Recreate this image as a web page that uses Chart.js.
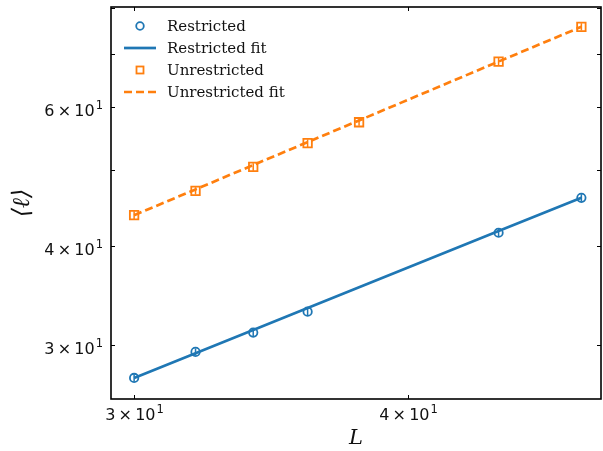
<!DOCTYPE html>
<html>
<head>
<meta charset="utf-8">
<script src="https://cdn.jsdelivr.net/npm/chart.js@4/dist/chart.umd.min.js"></script>
<style>
  html, body { margin: 0; padding: 0; background: #fff; }
  #wrap { width: 603px; height: 451px; }
</style>
</head>
<body>
<div id="wrap"><canvas id="grafico" width="603" height="451"></canvas></div>
<script>
// system sizes L
const lRestrito = [30, 32, 34, 36, 44, 48];
const lIrrestrito = [30, 32, 34, 36, 38, 44, 48];

// mean loop length <l>
const restrito = [27.25, 29.4, 31.1, 33.05, 41.6, 46.05];
const restritoErro = [0.3, 0.3, 0.35, 0.35, 0.45, 0.5];
const restritoFit = [27.25, 29.28, 31.34, 33.42, 41.8, 46.05];

const irrestrito = [43.8, 47.0, 50.4, 54.0, 57.4, 68.5, 75.8];
const irrestritoErro = [0.5, 0.5, 0.55, 0.6, 0.6, 0.75, 0.8];
const irrestritoFit = [43.78, 47.2, 50.67, 54.17, 57.7, 68.5, 75.8];

// ticks (mantissa, expoente)
const ticksX = [30, 40];
const ticksY = [30, 40, 50, 60, 70, 80];
const rotulosX = { 30: ["3", "1"], 40: ["4", "1"] };
const rotulosY = { 30: ["3", "1"], 40: ["4", "1"], 60: ["6", "1"] };

const azul = "#1f77b4";
const laranja = "#ff7f0e";

function pontos(xs, ys) {
    return xs.map((x, i) => ({ x: x, y: ys[i] }));
}

Chart.defaults.font.family = "'DejaVu Serif', serif";
Chart.defaults.color = "#111";

// desenha "m×10^e"
function rotulo(ctx, m, e, x, y, alinhar) {
    const base = "16px 'DejaVu Sans'";
    const sup = "11.5px 'DejaVu Sans'";
    const txt = m + "\u2009×\u200910";
    ctx.font = base;
    const w1 = ctx.measureText(txt).width;
    ctx.font = sup;
    const w2 = ctx.measureText(e).width + 1;
    const w = w1 + w2;
    let x0 = x;
    if (alinhar === "center") x0 = x - w / 2;
    if (alinhar === "right") x0 = x - w;
    ctx.textAlign = "left";
    ctx.textBaseline = "alphabetic";
    ctx.font = base;
    ctx.fillText(txt, x0, y);
    ctx.font = sup;
    ctx.fillText(e, x0 + w1 + 1, y - 7);
}

const errosPlugin = {
    id: "erros",
    afterDatasetsDraw(chart) {
        const ctx = chart.ctx;
        const sx = chart.scales.x;
        const sy = chart.scales.y;
        const grupos = [
            [lRestrito, restrito, restritoErro, azul],
            [lIrrestrito, irrestrito, irrestritoErro, laranja]
        ];
        ctx.save();
        ctx.lineWidth = 1.5;
        grupos.forEach(g => {
            ctx.strokeStyle = g[3];
            g[0].forEach((x, i) => {
                const px = sx.getPixelForValue(x);
                ctx.beginPath();
                ctx.moveTo(px, sy.getPixelForValue(g[1][i] - g[2][i]));
                ctx.lineTo(px, sy.getPixelForValue(g[1][i] + g[2][i]));
                ctx.stroke();
            });
        });
        ctx.restore();
    }
};

const molduraPlugin = {
    id: "moldura",
    afterDraw(chart) {
        const ctx = chart.ctx;
        const a = chart.chartArea;
        const sx = chart.scales.x;
        const sy = chart.scales.y;
        ctx.save();
        ctx.strokeStyle = "#000";
        ctx.fillStyle = "#111";
        ctx.lineWidth = 1;
        const t = 4;
        ticksX.forEach(v => {
            const px = Math.round(sx.getPixelForValue(v)) + 0.5;
            ctx.beginPath();
            ctx.moveTo(px, a.bottom); ctx.lineTo(px, a.bottom - t);
            ctx.moveTo(px, a.top); ctx.lineTo(px, a.top + t);
            ctx.stroke();
            if (rotulosX[v]) rotulo(ctx, rotulosX[v][0], rotulosX[v][1], px, a.bottom + 21, "center");
        });
        ticksY.forEach(v => {
            const py = Math.round(sy.getPixelForValue(v)) + 0.5;
            ctx.beginPath();
            ctx.moveTo(a.left, py); ctx.lineTo(a.left + t, py);
            ctx.moveTo(a.right, py); ctx.lineTo(a.right - t, py);
            ctx.stroke();
            if (rotulosY[v]) rotulo(ctx, rotulosY[v][0], rotulosY[v][1], a.left - 8, py + 8, "right");
        });
        ctx.lineWidth = 1.6;
        ctx.strokeRect(a.left, a.top, a.right - a.left, a.bottom - a.top);

        // legenda
        const itens = [
            ["Restricted", "circle"],
            ["Restricted fit", "solid"],
            ["Unrestricted", "rect"],
            ["Unrestricted fit", "dash"]
        ];
        const ys = [26, 48, 70, 92];
        ctx.font = "15px 'DejaVu Serif'";
        ctx.textBaseline = "middle";
        ctx.textAlign = "left";
        itens.forEach((it, i) => {
            const y = ys[i];
            const cor = i < 2 ? azul : laranja;
            ctx.strokeStyle = cor;
            if (it[1] === "circle") {
                ctx.lineWidth = 1.8;
                ctx.beginPath();
                ctx.arc(140, y, 3.8, 0, Math.PI * 2);
                ctx.stroke();
            } else if (it[1] === "rect") {
                ctx.lineWidth = 1.8;
                ctx.strokeRect(136.5, y - 3.5, 7, 7);
            } else {
                ctx.lineWidth = 2.7;
                ctx.setLineDash(it[1] === "dash" ? [8, 4] : []);
                ctx.beginPath();
                ctx.moveTo(124, y); ctx.lineTo(156, y);
                ctx.stroke();
                ctx.setLineDash([]);
            }
            ctx.fillStyle = "#111";
            ctx.fillText(it[0], 167, y + 1);
        });
        ctx.restore();
    }
};

const ctx = document.getElementById("grafico").getContext("2d");

new Chart(ctx, {
    type: "scatter",
    data: {
        datasets: [
            {
                label: "Restricted fit",
                type: "line",
                data: pontos(lRestrito, restritoFit),
                borderColor: azul,
                borderWidth: 2.7,
                pointRadius: 0,
                fill: false
            },
            {
                label: "Unrestricted fit",
                type: "line",
                data: pontos(lIrrestrito, irrestritoFit),
                borderColor: laranja,
                borderWidth: 2.7,
                borderDash: [8, 4],
                pointRadius: 0,
                fill: false
            },
            {
                label: "Restricted",
                data: pontos(lRestrito, restrito),
                pointStyle: "circle",
                pointRadius: 4.2,
                pointBorderWidth: 1.8,
                borderColor: azul,
                backgroundColor: "rgba(255,255,255,0.7)"
            },
            {
                label: "Unrestricted",
                data: pontos(lIrrestrito, irrestrito),
                pointStyle: "rect",
                pointRadius: 6,
                pointBorderWidth: 1.8,
                borderColor: laranja,
                backgroundColor: "rgba(255,255,255,0.7)"
            }
        ]
    },
    options: {
        responsive: false,
        animation: false,
        layout: { autoPadding: false, padding: { left: 0, top: 7, right: 2, bottom: 0 } },
        plugins: {
            legend: { display: false },
            tooltip: { enabled: false }
        },
        scales: {
            x: {
                type: "logarithmic",
                min: 29.28,
                max: 49,
                grid: { display: false, drawTicks: false, tickLength: 0 },
                border: { display: false },
                afterBuildTicks: s => { s.ticks = ticksX.map(v => ({ value: v })); },
                afterFit: s => { s.height = 52; s.paddingLeft = 0; s.paddingRight = 0; },
                ticks: { display: false },
                title: {
                    display: true,
                    text: "L",
                    font: { size: 21, style: "italic" },
                    padding: { top: 0, bottom: 0 }
                }
            },
            y: {
                type: "logarithmic",
                min: 25.63,
                max: 80.3,
                grid: { display: false, drawTicks: false, tickLength: 0 },
                border: { display: false },
                afterBuildTicks: s => { s.ticks = ticksY.map(v => ({ value: v })); },
                afterFit: s => { s.width = 111; s.paddingTop = 0; s.paddingBottom = 0; },
                ticks: { display: false },
                title: {
                    display: true,
                    text: "⟨ℓ⟩",
                    font: { size: 24, style: "italic" },
                    padding: { top: 8, bottom: 0 }
                }
            }
        }
    },
    plugins: [errosPlugin, molduraPlugin]
});
</script>
</body>
</html>
